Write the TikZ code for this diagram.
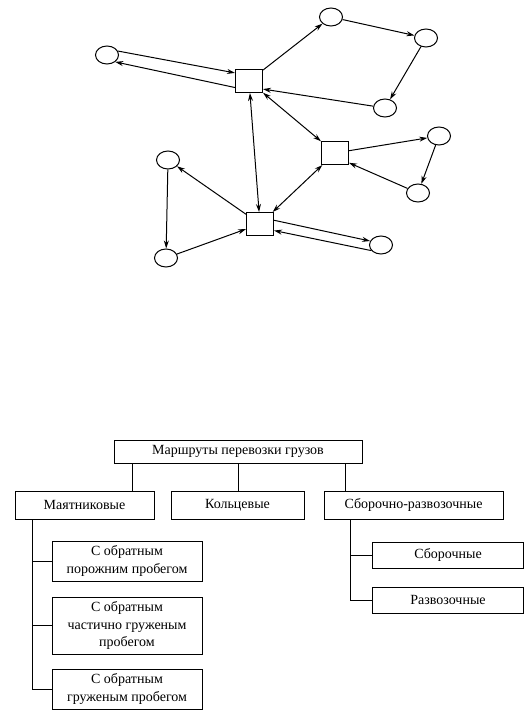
\documentclass[tikz,border=0pt]{standalone}
\usepackage{fontspec}
\setmainfont{Liberation Serif}
\usetikzlibrary{arrows.meta, positioning, shapes.geometric}

\begin{document}
\begin{tikzpicture}[
  x=1pt, y=-1pt,
  line width=1pt,
  vtx/.style={draw, ellipse, minimum width=23pt, minimum height=18pt, inner sep=0pt},
  hub/.style={draw, rectangle, minimum width=27pt, minimum height=23pt, inner sep=0pt},
  arr/.style={-{Stealth[length=8pt, width=5pt]}},
  barr/.style={{Stealth[length=8pt, width=5pt]}-{Stealth[length=8pt, width=5pt]}},
  tbox/.style={draw, rectangle, align=center, inner sep=2pt, font=\fontsize{14}{17.5}\selectfont}
]
  \useasboundingbox (0,0) rectangle (530,723);

  % route scheme
  \node[hub] (s1) at (249, 81) {};
  \node[hub] (s2) at (335, 153) {};
  \node[hub] (s3) at (260, 224) {};

  \node[vtx] (c1) at (107, 55) {};
  \node[vtx] (c2) at (331, 17) {};
  \node[vtx] (c3) at (426, 38) {};
  \node[vtx] (c4) at (385, 108) {};
  \node[vtx] (c5) at (439, 136) {};
  \node[vtx] (c6) at (418, 193) {};
  \node[vtx] (c7) at (381, 245) {};
  \node[vtx] (c8) at (168, 160) {};
  \node[vtx] (c9) at (166, 258) {};

  \draw[arr] (c1.20) -- (s1.150);
  \draw[arr] (s1.205) -- (c1.-40);
  \draw[arr] (s1) -- (c2);
  \draw[arr] (c2) -- (c3);
  \draw[arr] (c3) -- (c4);
  \draw[arr] (c4) -- (s1.-30);
  \draw[barr] (s1) -- (s3);
  \draw[barr] (s1) -- (s2);
  \draw[arr] (s2) -- (c5);
  \draw[arr] (c5) -- (c6);
  \draw[arr] (c6) -- (s2.-35);
  \draw[barr] (s2) -- (s3);
  \draw[arr] (s3) -- (c8);
  \draw[arr] (c8) -- (c9);
  \draw[arr] (c9) -- (s3);
  \draw[arr] (s3.15) -- (c7.160);
  \draw[arr] (c7.-150) -- (s3.-25);

  % classification
  \node[tbox, minimum width=248pt, minimum height=23pt] (top) at (238, 451.5) {Маршруты перевозки грузов};
  \node[tbox, minimum width=139pt, minimum height=28pt] (mt) at (84.5, 505) {Маятниковые};
  \node[tbox, minimum width=133pt, minimum height=28pt] (kl) at (237.5, 505) {Кольцевые};
  \node[tbox, minimum width=179pt, minimum height=28pt] (sr) at (413.5, 505) {Сборочно-развозочные};

  \node[tbox, minimum width=150pt, minimum height=40pt] (b1) at (127, 561) {С обратным\\порожним пробегом};
  \node[tbox, minimum width=150pt, minimum height=57pt] (b2) at (127, 625.5) {С обратным\\частично груженым\\пробегом};
  \node[tbox, minimum width=150pt, minimum height=40pt] (b3) at (127, 689) {С обратным\\груженым пробегом};

  \node[tbox, minimum width=151pt, minimum height=26pt] (sb) at (448, 555) {Сборочные};
  \node[tbox, minimum width=151pt, minimum height=26pt] (rz) at (448, 600) {Развозочные};

  \draw ([xshift=19pt]top.south west) -- ([xshift=19pt]top.south west |- mt.north);
  \draw (top.south) -- (top.south |- kl.north);
  \draw ([xshift=-17pt]top.south east) -- ([xshift=-17pt]top.south east |- sr.north);

  \draw ([xshift=18pt]mt.south west) |- (b1.west);
  \draw ([xshift=18pt]mt.south west) |- (b2.west);
  \draw ([xshift=18pt]mt.south west) |- (b3.west);

  \draw ([xshift=27pt]sr.south west) |- (sb.west);
  \draw ([xshift=27pt]sr.south west) |- (rz.west);
\end{tikzpicture}
\end{document}
